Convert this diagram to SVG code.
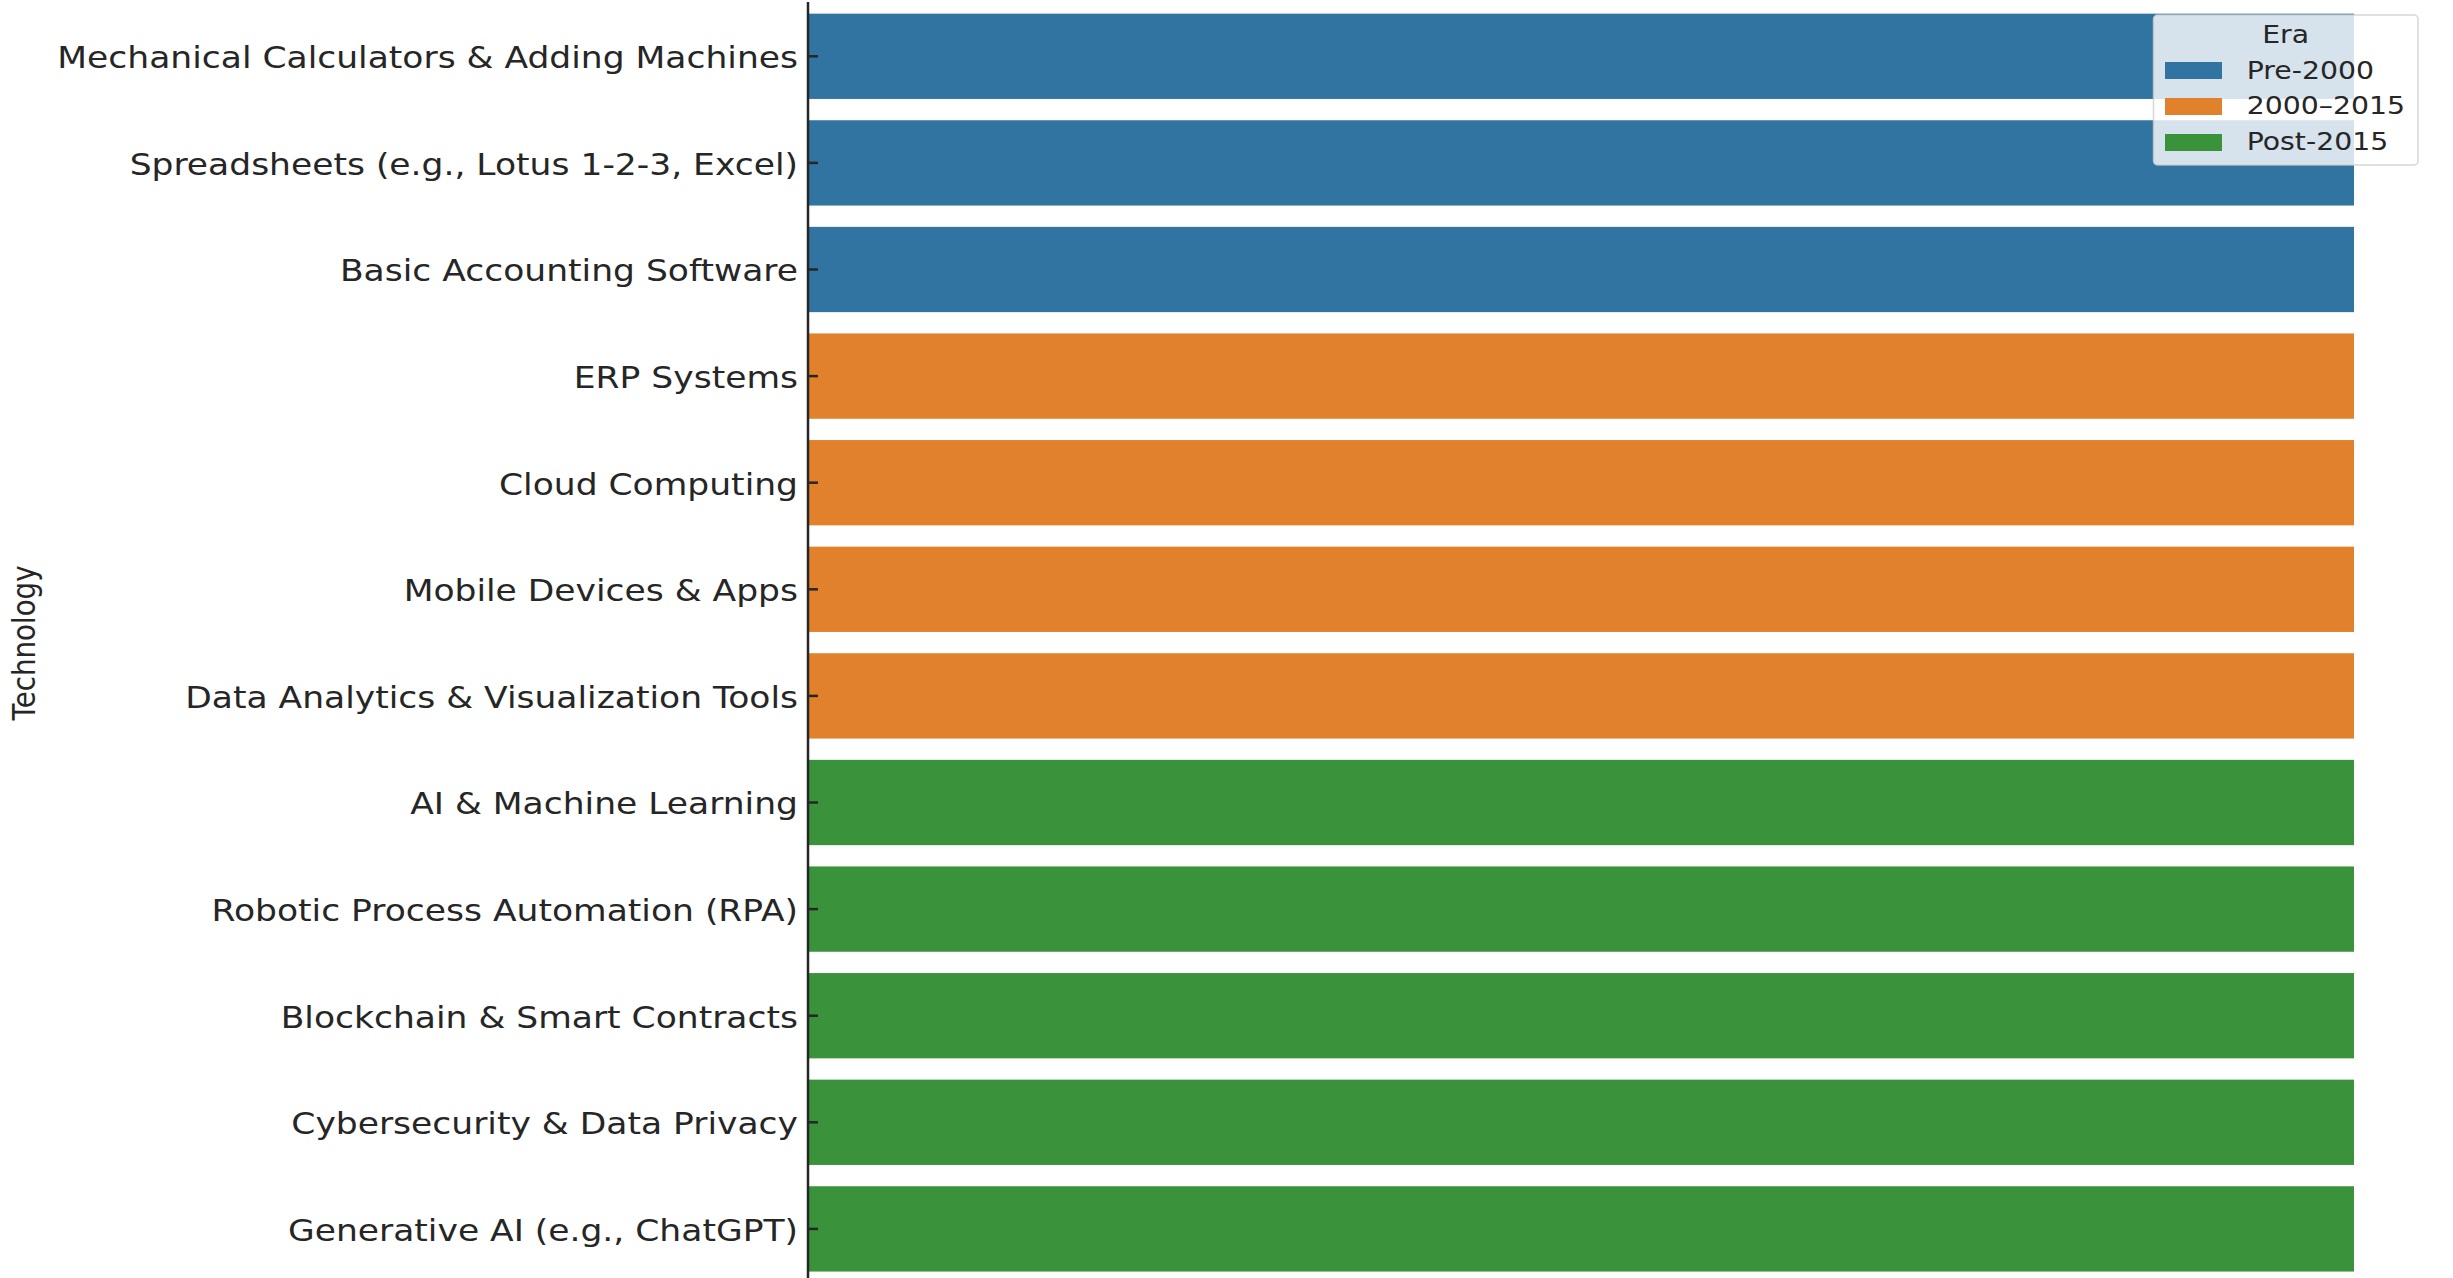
<svg xmlns="http://www.w3.org/2000/svg" width="2453" height="1278" viewBox="0 0 2453 1278">
<style>
.lbl{font-family:"DejaVu Sans",sans-serif;font-size:29.5px;fill:#262626;text-anchor:end}
.leg{font-family:"DejaVu Sans",sans-serif;font-size:24px;fill:#262626}
.pre{fill:#3274a1}.mid{fill:#e1812c}.post{fill:#3a923a}
.tick{stroke:#262626;stroke-width:2.5}
</style>
<rect width="2453" height="1278" fill="#ffffff"/>
<g id="bars">
<rect id="bar0" class="pre" x="809" y="13.65" width="1545" height="85.3"/>
<rect id="bar1" class="pre" x="809" y="120.25" width="1545" height="85.3"/>
<rect id="bar2" class="pre" x="809" y="226.85" width="1545" height="85.3"/>
<rect id="bar3" class="mid" x="809" y="333.45" width="1545" height="85.3"/>
<rect id="bar4" class="mid" x="809" y="440.05" width="1545" height="85.3"/>
<rect id="bar5" class="mid" x="809" y="546.65" width="1545" height="85.3"/>
<rect id="bar6" class="mid" x="809" y="653.25" width="1545" height="85.3"/>
<rect id="bar7" class="post" x="809" y="759.85" width="1545" height="85.3"/>
<rect id="bar8" class="post" x="809" y="866.45" width="1545" height="85.3"/>
<rect id="bar9" class="post" x="809" y="973.05" width="1545" height="85.3"/>
<rect id="bar10" class="post" x="809" y="1079.65" width="1545" height="85.3"/>
<rect id="bar11" class="post" x="809" y="1186.25" width="1545" height="85.3"/>
</g>
<g id="axis">
<line x1="808" y1="2" x2="808" y2="1278" stroke="#262626" stroke-width="2.5"/>
<line class="tick" x1="808" y1="56.3" x2="818" y2="56.3"/>
<line class="tick" x1="808" y1="162.9" x2="818" y2="162.9"/>
<line class="tick" x1="808" y1="269.5" x2="818" y2="269.5"/>
<line class="tick" x1="808" y1="376.1" x2="818" y2="376.1"/>
<line class="tick" x1="808" y1="482.7" x2="818" y2="482.7"/>
<line class="tick" x1="808" y1="589.3" x2="818" y2="589.3"/>
<line class="tick" x1="808" y1="695.9" x2="818" y2="695.9"/>
<line class="tick" x1="808" y1="802.5" x2="818" y2="802.5"/>
<line class="tick" x1="808" y1="909.1" x2="818" y2="909.1"/>
<line class="tick" x1="808" y1="1015.7" x2="818" y2="1015.7"/>
<line class="tick" x1="808" y1="1122.3" x2="818" y2="1122.3"/>
<line class="tick" x1="808" y1="1228.9" x2="818" y2="1228.9"/>
</g>
<g id="labels" transform="scale(1.17,1)">
<text class="lbl" x="682.05" y="68.2">Mechanical Calculators &amp; Adding Machines</text>
<text class="lbl" x="682.05" y="174.8">Spreadsheets (e.g., Lotus 1-2-3, Excel)</text>
<text class="lbl" x="682.05" y="281.4">Basic Accounting Software</text>
<text class="lbl" x="682.05" y="388.0">ERP Systems</text>
<text class="lbl" x="682.05" y="494.6">Cloud Computing</text>
<text class="lbl" x="682.05" y="601.2">Mobile Devices &amp; Apps</text>
<text class="lbl" x="682.05" y="707.8">Data Analytics &amp; Visualization Tools</text>
<text class="lbl" x="682.05" y="814.4">AI &amp; Machine Learning</text>
<text class="lbl" x="682.05" y="921.0">Robotic Process Automation (RPA)</text>
<text class="lbl" x="682.05" y="1027.6">Blockchain &amp; Smart Contracts</text>
<text class="lbl" x="682.05" y="1134.2">Cybersecurity &amp; Data Privacy</text>
<text class="lbl" x="682.05" y="1240.8">Generative AI (e.g., ChatGPT)</text>
</g>
<text id="ylabel" transform="translate(35,643) scale(1.17,1) rotate(-90)" font-family="DejaVu Sans, sans-serif" font-size="27.7" fill="#262626" text-anchor="middle">Technology</text>
<g id="legend">
<rect x="2153.5" y="15" width="264.5" height="150" rx="4" fill="#ffffff" fill-opacity="0.8" stroke="#cccccc" stroke-opacity="0.8" stroke-width="1.5"/>
<rect class="pre" x="2165" y="62" width="57" height="17"/>
<rect class="mid" x="2165" y="98" width="57" height="17"/>
<rect class="post" x="2165" y="134" width="57" height="17"/>
<g transform="scale(1.18,1)">
<text class="leg" x="1937.0" y="43" text-anchor="middle">Era</text>
<text class="leg" x="1904.0" y="79">Pre-2000</text>
<text class="leg" x="1904.0" y="114.5">2000–2015</text>
<text class="leg" x="1904.0" y="150">Post-2015</text>
</g>
</g>
</svg>
